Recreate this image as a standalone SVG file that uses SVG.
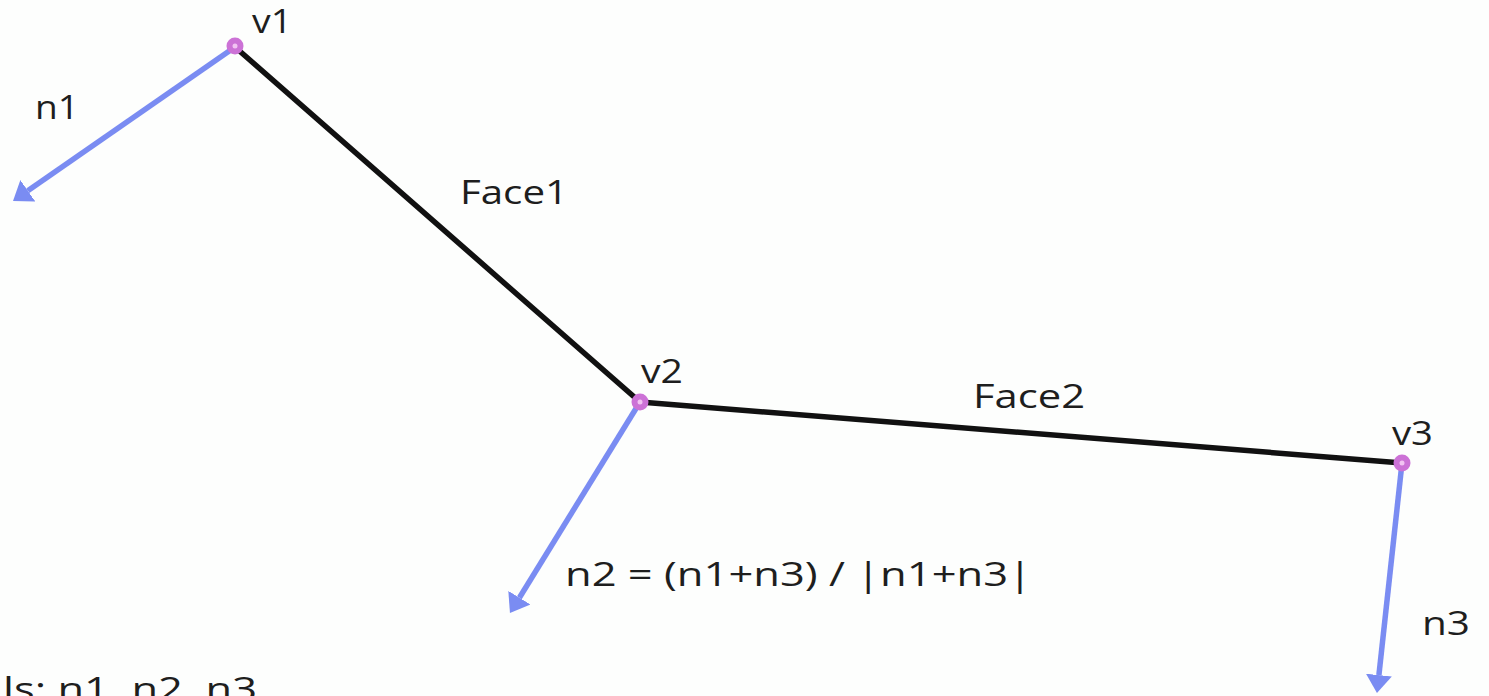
<svg xmlns="http://www.w3.org/2000/svg" width="1489" height="696" viewBox="0 0 1489 696">
<style>
.lbl{font-family:"Open Sans","Noto Sans","Liberation Sans",sans-serif;font-size:33px;fill:#1e1e1e}
.edge{stroke:#111;stroke-width:5.5;fill:none;stroke-linecap:round}
.normal{stroke:#7a8cf2;stroke-width:5.5;fill:none;marker-end:url(#ah)}
.dot{fill:#cc72d6}
.dotc{fill:#f2c4f2}
</style>
<defs>
<marker id="ah" markerUnits="userSpaceOnUse" markerWidth="20" markerHeight="28" viewBox="0 -14 20 28" refX="0" refY="0" orient="auto">
<path d="M0,-13 L18,0 L0,13 z" fill="#7a8cf2"/>
</marker>
</defs>
<rect width="1489" height="696" fill="#fdfefd"/>
<g id="connectors">
<line class="edge" x1="235" y1="47" x2="640" y2="402"/>
<line class="edge" x1="640" y1="402" x2="1402" y2="463"/>
<line class="normal" x1="235" y1="47" x2="27.8" y2="190.7"/>
<line class="normal" x1="640" y1="402" x2="519.4" y2="597.7"/>
<line class="normal" x1="1402" y1="463" x2="1378.9" y2="675.1"/>
</g>
<g id="v1"><circle class="dot" cx="235" cy="46" r="8.5"/><circle class="dotc" cx="235" cy="46" r="2.5"/><text class="lbl" x="252" y="33" textLength="40" lengthAdjust="spacingAndGlyphs">v1</text></g>
<g id="v2"><circle class="dot" cx="640" cy="402" r="8.5"/><circle class="dotc" cx="640" cy="402" r="2.5"/><text class="lbl" x="641" y="383" textLength="42" lengthAdjust="spacingAndGlyphs">v2</text></g>
<g id="v3"><circle class="dot" cx="1402" cy="463" r="8.5"/><circle class="dotc" cx="1402" cy="463" r="2.5"/><text class="lbl" x="1392" y="445" textLength="41" lengthAdjust="spacingAndGlyphs">v3</text></g>
<g id="n1"><text class="lbl" x="35" y="119" textLength="44" lengthAdjust="spacingAndGlyphs">n1</text></g>
<g id="n2"><text class="lbl" x="565" y="586" textLength="467" lengthAdjust="spacingAndGlyphs">n2 = (n1+n3) / |n1+n3|</text></g>
<g id="n3"><text class="lbl" x="1422" y="635" textLength="48" lengthAdjust="spacingAndGlyphs">n3</text></g>
<g id="face1"><text class="lbl" x="460" y="204" textLength="108" lengthAdjust="spacingAndGlyphs">Face1</text></g>
<g id="face2"><text class="lbl" x="973" y="408" textLength="112" lengthAdjust="spacingAndGlyphs">Face2</text></g>
<g id="caption"><text class="lbl" x="3" y="701" textLength="254" lengthAdjust="spacingAndGlyphs">ls: n1, n2, n3</text></g>
</svg>
